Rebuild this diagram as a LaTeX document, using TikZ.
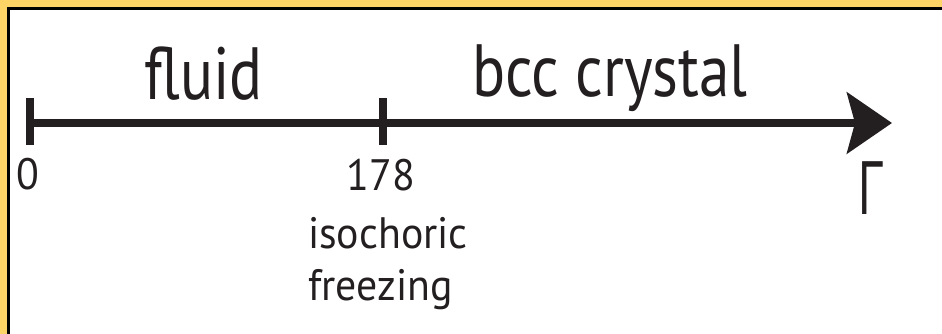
\documentclass[tikz,border=0pt]{standalone}
\usepackage{fontspec}
\setmainfont{PT Sans}
\newfontfamily\greekfont{Open Sans}
\usetikzlibrary{arrows.meta}
\definecolor{frameyellow}{HTML}{FFD466}
\definecolor{ink}{HTML}{231F20}
\tikzset{
  lbl/.style={inner sep=0pt, text=ink},
  biglbl/.style={lbl, font=\fontsize{74}{74}\selectfont, xscale=0.83},
  smalllbl/.style={lbl, font=\fontsize{44}{44}\selectfont, xscale=0.95},
  tickmark/.style={draw=ink, line width=8pt},
  axisline/.style={draw=ink, line width=8pt, -{Stealth[length=45pt,width=61pt,inset=8pt]}}
}
\begin{document}
\begin{tikzpicture}[x=1pt,y=-1pt]
\useasboundingbox (0,0) rectangle (942,334);
\fill[frameyellow] (0,0) rectangle (942,334);
\fill[white] (8.5,9) rectangle (942,334);
\draw[black, line width=3pt] (8.5,334) -- (8.5,9) -- (942,9);
% axis
\coordinate (t0) at (30,123);
\coordinate (t1) at (383,123);
\coordinate (tip) at (892,123);
\coordinate (t0a) at (30,98);
\coordinate (t0b) at (30,145);
\coordinate (t1a) at (383,98);
\coordinate (t1b) at (383,145);
\draw[axisline] (t0) -- (tip);
\draw[tickmark] (t0a) -- (t0b);
\draw[tickmark] (t1a) -- (t1b);
% labels
\node[biglbl, anchor=base] (fluid) at (203.5,100) {fluid};
\node[biglbl, anchor=base] (bcc) at (610,97) {bcc crystal};
\node[smalllbl, anchor=base] (zero) at (28,189) {0};
\node[smalllbl, anchor=base] (n178) at (381,190) {178};
\node[smalllbl, anchor=base west] (iso) at (308,248) {isochoric};
\node[smalllbl, anchor=base west] (frz) at (308,300) {freezing};
\node[lbl, anchor=base, font=\greekfont\fontsize{74}{74}\selectfont, xscale=0.7] (gam) at (871,214) {Γ};
\end{tikzpicture}
\end{document}
